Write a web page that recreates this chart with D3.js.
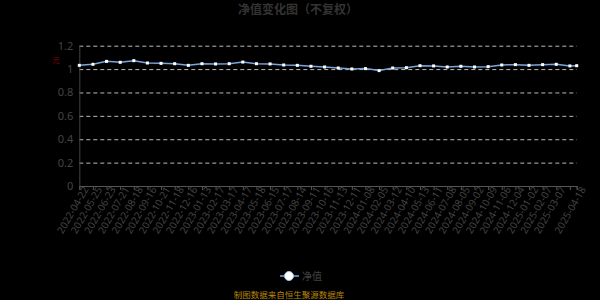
<!DOCTYPE html>
<html>
<head>
<meta charset="utf-8">
<script src="https://cdn.jsdelivr.net/npm/d3@7"></script>
<style>
    body { margin: 0; background: #000; }
    svg { display: block; font-family: "Noto Sans", "Noto Sans CJK SC", sans-serif; }
</style>
</head>
<body>
<div id="chart"></div>
<script>
// data
var dates = [
    "2022-04-22", "2022-05-25", "2022-06-23", "2022-07-21", "2022-08-18", "2022-09-16",
    "2022-10-21", "2022-11-18", "2022-12-16", "2023-01-13", "2023-02-17", "2023-03-17",
    "2023-04-17", "2023-05-18", "2023-06-15", "2023-07-17", "2023-08-14", "2023-09-11",
    "2023-10-16", "2023-11-13", "2023-12-11", "2024-01-08", "2024-02-05", "2024-03-12",
    "2024-04-10", "2024-05-13", "2024-06-11", "2024-07-08", "2024-08-05", "2024-09-02",
    "2024-10-09", "2024-11-06", "2024-12-04", "2025-01-02", "2025-02-07", "2025-03-07",
    "2025-04-03", "2025-04-18"
];
var nav = [
    1.032, 1.041, 1.066, 1.058, 1.072, 1.052, 1.049, 1.046, 1.032, 1.046,
    1.044, 1.046, 1.060, 1.046, 1.044, 1.035, 1.032, 1.024, 1.018, 1.009,
    1.001, 1.004, 0.987, 1.009, 1.012, 1.029, 1.027, 1.018, 1.024, 1.018,
    1.021, 1.035, 1.038, 1.032, 1.038, 1.041, 1.027, 1.029
];
// the last report comes half a step after the one before it
var slots = dates.map(function (d, i) { return i < dates.length - 1 ? i : i - 0.5; });
var hiddenLabels = ["2025-04-03"];
var yTicks = [0, 0.2, 0.4, 0.6, 0.8, 1, 1.2];

var width = 600, height = 300,
    margin = {left: 79.3, right: 23.3, top: 45.7, bottom: 114};

var svg = d3.select("#chart").append("svg")
    .attr("width", width)
    .attr("height", height);

var x = d3.scaleLinear()
    .domain([0, d3.max(slots)])
    .range([margin.left, width - margin.right]);

var y = d3.scaleLinear()
    .domain([0, 1.2])
    .range([height - margin.bottom, margin.top]);

// title
svg.append("text")
    .attr("x", 298).attr("y", 14)
    .attr("text-anchor", "middle")
    .attr("font-size", 12).attr("font-weight", "bold")
    .attr("fill", "#333")
    .text("净值变化图（不复权）");

// unit
svg.append("text")
    .attr("x", 56).attr("y", 63)
    .attr("text-anchor", "middle")
    .attr("font-size", 7)
    .attr("fill", "#8b0000")
    .text("元");

// grid
svg.append("g")
    .selectAll("line")
    .data(yTicks.filter(function (t) { return t > 0; }))
    .enter().append("line")
    .attr("x1", x.range()[0]).attr("x2", x.range()[1])
    .attr("y1", function (d) { return y(d) + 0.5; })
    .attr("y2", function (d) { return y(d) + 0.5; })
    .attr("stroke", "#bbb")
    .attr("stroke-dasharray", "4,3");

// y axis
var yAxis = svg.append("g")
    .attr("transform", "translate(" + margin.left + ",0)")
    .call(d3.axisLeft(y).tickValues(yTicks).tickSize(0).tickPadding(6)
        .tickFormat(function (d) { return d3.format("~g")(d); }));
yAxis.select(".domain").attr("stroke", "#444");
yAxis.selectAll("text").attr("fill", "#444").attr("font-size", 11)
    .attr("font-family", "\"Noto Sans\", sans-serif");

// x axis
var xAxis = svg.append("g")
    .attr("transform", "translate(0," + y(0) + ")")
    .call(d3.axisBottom(x).tickValues(slots).tickSizeOuter(0).tickSize(4)
        .tickFormat(function (d) { return dates[slots.indexOf(d)]; }));
xAxis.select(".domain").attr("stroke", "#555");
xAxis.selectAll(".tick line").attr("stroke", "#555");
xAxis.selectAll("text")
    .attr("fill", "#444")
    .attr("font-size", 10)
    .attr("font-family", "\"Noto Sans\", sans-serif")
    .attr("text-anchor", "end")
    .attr("dy", "0.35em")
    .attr("transform", "translate(0,-2) rotate(-60)")
    .style("display", function (d) {
        return hiddenLabels.indexOf(dates[slots.indexOf(d)]) >= 0 ? "none" : null;
    });

// line
var line = d3.line()
    .x(function (d, i) { return x(slots[i]); })
    .y(function (d) { return y(d); });

svg.append("path")
    .datum(nav)
    .attr("fill", "none")
    .attr("stroke", "#7aa6dc")
    .attr("stroke-width", 1.5)
    .attr("d", line);

svg.append("g")
    .selectAll("rect")
    .data(nav)
    .enter().append("rect")
    .attr("x", function (d, i) { return x(slots[i]) - 1.5; })
    .attr("y", function (d) { return y(d) - 1.5; })
    .attr("width", 3).attr("height", 3)
    .attr("fill", "#fff");

// legend
var legend = svg.append("g").attr("transform", "translate(289,276)");
legend.append("line")
    .attr("x1", -9).attr("x2", 10)
    .attr("stroke", "#7aa6dc").attr("stroke-width", 1.5);
legend.append("circle")
    .attr("r", 4.5)
    .attr("fill", "#fff")
    .attr("stroke", "#9cc0ee").attr("stroke-width", 1);
legend.append("text")
    .attr("x", 13).attr("y", 4)
    .attr("font-size", 10)
    .attr("fill", "#444")
    .text("净值");

// source
svg.append("text")
    .attr("x", 289).attr("y", 298)
    .attr("text-anchor", "middle")
    .attr("font-size", 8.5)
    .attr("fill", "#b8860b")
    .text("制图数据来自恒生聚源数据库");
</script>
</body>
</html>
